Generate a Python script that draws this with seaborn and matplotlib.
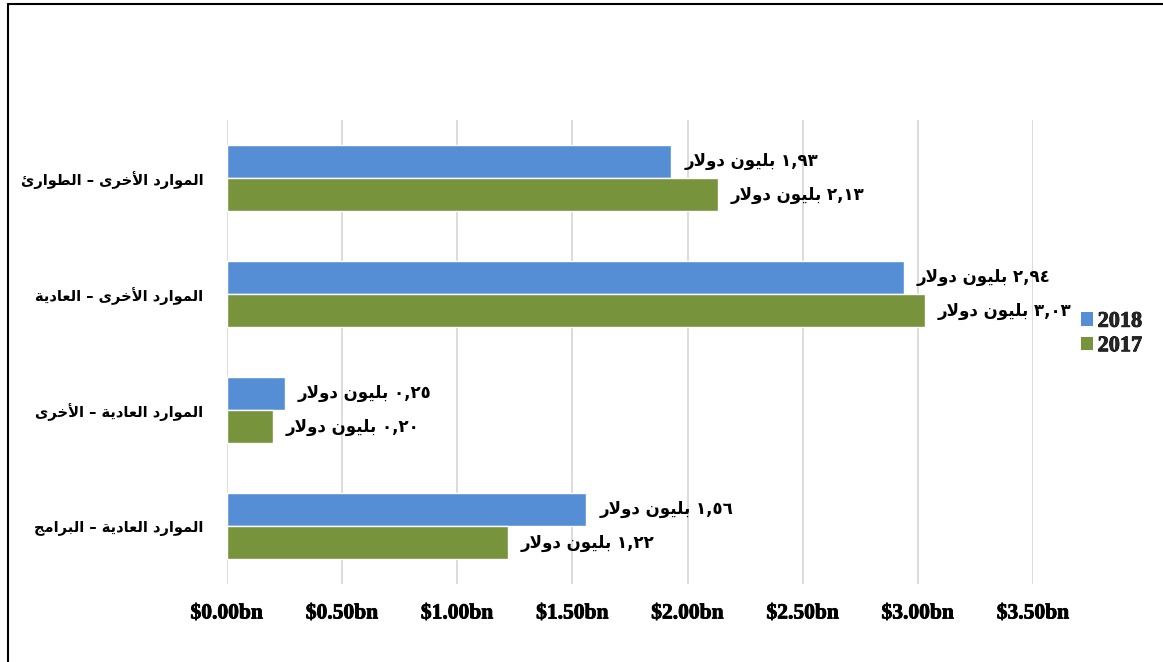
import matplotlib
matplotlib.use("Agg")
import matplotlib.pyplot as plt
from matplotlib.lines import Line2D
from matplotlib.patches import Patch
from matplotlib.font_manager import FontProperties
import matplotlib.patheffects as pe
import seaborn as sns
import pandas as pd

# ---------------- data ----------------
categories = ["الموارد الأخرى – الطوارئ",
              "الموارد الأخرى – العادية",
              "الموارد العادية – الأخرى",
              "الموارد العادية – البرامج"]
years = ["2018", "2017"]
values_2018 = [1.93, 2.94, 0.25, 1.56]
values_2017 = [2.13, 3.03, 0.20, 1.22]
x_ticks = [0.0, 0.5, 1.0, 1.5, 2.0, 2.5, 3.0, 3.5]
x_tick_labels = ["$0.00bn", "$0.50bn", "$1.00bn", "$1.50bn",
                 "$2.00bn", "$2.50bn", "$3.00bn", "$3.50bn"]
unit_text = "بليون دولار"
colors = {"2018": "#558ED5", "2017": "#77933C"}

# ---------------- minimal Arabic shaping ----------------
FORMS = {
    '\u0627': ('\uFE8D', '\uFE8E', None, None),
    '\u0623': ('\uFE83', '\uFE84', None, None),
    '\u0628': ('\uFE8F', '\uFE90', '\uFE91', '\uFE92'),
    '\u0629': ('\uFE93', '\uFE94', None, None),
    '\u062C': ('\uFE9D', '\uFE9E', '\uFE9F', '\uFEA0'),
    '\u062E': ('\uFEA5', '\uFEA6', '\uFEA7', '\uFEA8'),
    '\u062F': ('\uFEA9', '\uFEAA', None, None),
    '\u0631': ('\uFEAD', '\uFEAE', None, None),
    '\u0637': ('\uFEC1', '\uFEC2', '\uFEC3', '\uFEC4'),
    '\u0639': ('\uFEC9', '\uFECA', '\uFECB', '\uFECC'),
    '\u0644': ('\uFEDD', '\uFEDE', '\uFEDF', '\uFEE0'),
    '\u0645': ('\uFEE1', '\uFEE2', '\uFEE3', '\uFEE4'),
    '\u0646': ('\uFEE5', '\uFEE6', '\uFEE7', '\uFEE8'),
    '\u0648': ('\uFEED', '\uFEEE', None, None),
    '\u0649': ('\uFEEF', '\uFEF0', None, None),
    '\u064A': ('\uFEF1', '\uFEF2', '\uFEF3', '\uFEF4'),
    '\u0626': ('\uFE89', '\uFE8A', '\uFE8B', '\uFE8C'),
}
LAM_ALEF = {'\u0627': ('\uFEFB', '\uFEFC'), '\u0623': ('\uFEF7', '\uFEF8')}


def _dual(c):
    return c in FORMS and FORMS[c][2] is not None


def shape(text):
    out = []
    i = 0
    n = len(text)
    while i < n:
        c = text[i]
        if c not in FORMS:
            out.append(c)
            i += 1
            continue
        prev = text[i - 1] if i > 0 else ''
        join_prev = _dual(prev)
        if c == '\u0644' and i + 1 < n and text[i + 1] in LAM_ALEF:
            iso, fin = LAM_ALEF[text[i + 1]]
            out.append(fin if join_prev else iso)
            i += 2
            continue
        nxt = text[i + 1] if i + 1 < n else ''
        join_next = _dual(c) and nxt in FORMS
        iso, fin, ini, med = FORMS[c]
        if join_prev and join_next:
            out.append(med)
        elif join_prev:
            out.append(fin)
        elif join_next:
            out.append(ini)
        else:
            out.append(iso)
        i += 1
    return ''.join(out)


def visual(text):
    return shape(text)[::-1]


def arabic_digits(s):
    return s.translate(str.maketrans("0123456789", "٠١٢٣٤٥٦٧٨٩"))


def value_label(v):
    return visual(unit_text) + " " + arabic_digits(f"{v:.2f}".replace(".", ","))


# ---------------- dataframe ----------------
df = pd.DataFrame({
    "category": categories * 2,
    "year": [years[0]] * len(categories) + [years[1]] * len(categories),
    "value": values_2018 + values_2017,
})

sns.set_theme(style="white")
ar_cat = FontProperties(family="DejaVu Sans", weight="bold", size=10.5)
ar_val = FontProperties(family="DejaVu Sans", weight="bold", size=12)
lat_tick = FontProperties(family="Liberation Serif", weight="bold", size=15.5)
lat_leg = FontProperties(family="Liberation Serif", weight="bold", size=16)
embolden = [pe.withStroke(linewidth=0.6, foreground="black")]

fig = plt.figure(figsize=(11.63, 6.62), dpi=100)
ax = fig.add_axes([227 / 1163, 1 - 584 / 662, (1033 - 227) / 1163, (584 - 120) / 662])

sns.barplot(data=df, y="category", x="value", hue="year", order=categories,
            hue_order=years, palette=colors, orient="h", width=0.57,
            saturation=1, ax=ax, legend=False)

ax.set_xlim(0, 3.5)
ax.set_xticks(x_ticks)
ax.set_xticklabels(x_tick_labels)
for t in ax.get_xticklabels():
    t.set_fontproperties(lat_tick)
    t.set_color("black")
    t.set_path_effects(embolden)
ax.set_yticks(range(len(categories)))
ax.set_yticklabels([visual(c) for c in categories])
for t in ax.get_yticklabels():
    t.set_fontproperties(ar_cat)
    t.set_color("black")
ax.tick_params(axis="x", length=0, pad=14)
ax.tick_params(axis="y", length=0, pad=17)
ax.set_xlabel("")
ax.set_ylabel("")
ax.grid(axis="x", color="#D9D9D9", linewidth=1.3)
ax.set_axisbelow(True)
for s in ax.spines.values():
    s.set_visible(False)

# bar labels
for container, yr in zip(ax.containers, years):
    for bar in container:
        w = bar.get_width()
        yc = bar.get_y() + bar.get_height() / 2
        ax.annotate(value_label(w), xy=(w, yc), xytext=(13, 0),
                    textcoords="offset pixels", ha="left", va="center",
                    fontproperties=ar_val, color="black")

# legend
handles = [Patch(facecolor=colors[y], edgecolor="none", label=y) for y in years]
leg = fig.legend(handles=handles, loc="center left", bbox_to_anchor=(1081 / 1163, 1 - 334 / 662),
                 frameon=False, prop=lat_leg,
                 handlelength=0.55, handleheight=0.55, handletextpad=0.2, labelspacing=0.2,
                 borderaxespad=0, borderpad=0)
for t in leg.get_texts():
    t.set_path_effects(embolden)

# figure border (left and top)
fig.add_artist(Line2D([7.5 / 1163, 7.5 / 1163], [0, 1 - 3.5 / 662], transform=fig.transFigure,
                      color="black", linewidth=1.5))
fig.add_artist(Line2D([7.5 / 1163, 1], [1 - 3.5 / 662, 1 - 3.5 / 662], transform=fig.transFigure,
                      color="black", linewidth=1.5))

fig.savefig("out.png", dpi=100)
